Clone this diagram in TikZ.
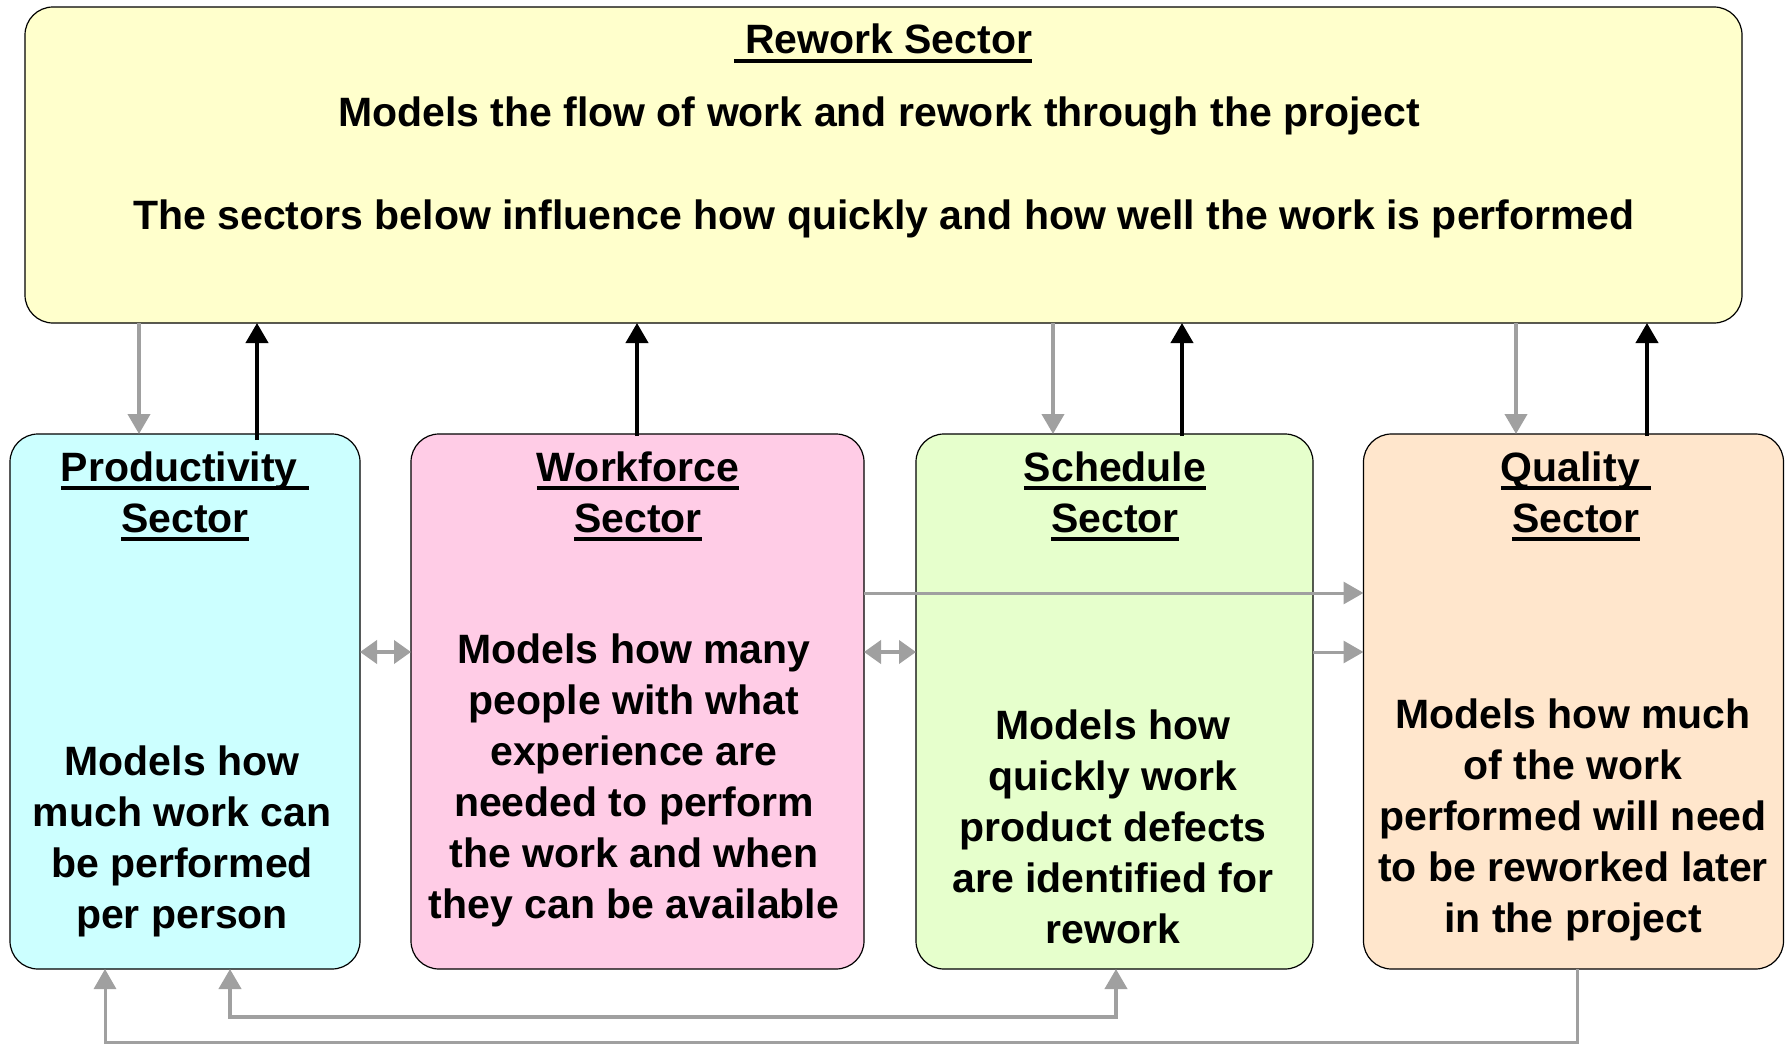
\documentclass[tikz,border=0pt]{standalone}
\usepackage{fontspec}
\setmainfont{Liberation Sans}
\usetikzlibrary{arrows.meta,calc}
\definecolor{cyel}{HTML}{FFFFCC}
\definecolor{ccyan}{HTML}{CCFFFF}
\definecolor{cpink}{HTML}{FFCCE6}
\definecolor{cgreen}{HTML}{E6FFCC}
\definecolor{corange}{HTML}{FFE6CC}
\definecolor{agray}{HTML}{A0A0A0}
\newcommand\myul[1]{\setbox0\hbox{#1}\leavevmode\rlap{\rule[-4.5pt]{\wd0}{2pt}}\box0}
\newcommand\fsz{\fontsize{20.5pt}{25.5pt}\selectfont}
\begin{document}
\begin{tikzpicture}[x=0.5pt,y=-0.5pt,
  box/.style={draw=black,line width=0.6pt,rounded corners=14pt,inner sep=0pt,outer sep=0pt},
  txt/.style={font=\fsz\bfseries,align=center,inner sep=0pt},
  tipA/.tip={Triangle[length=10pt,width=11pt]},
  tipB/.tip={Triangle[length=8.5pt,width=11.5pt]},
  grayarr/.style={draw=agray,line width=2pt,-tipA},
  blackarr/.style={draw=black,line width=2pt,-tipA},
  dblarr/.style={draw=agray,line width=2pt,tipB-tipB},
  bottomarr/.style={draw=agray,line width=1.5pt,-tipA},
  bottomdbl/.style={draw=agray,line width=2pt,tipA-tipA}]
\fill[white] (0,0) rectangle (1785,1044);
\useasboundingbox (0,0) rectangle (1785,1044);

% boxes
\node[box,fill=cyel,minimum width=858.5pt,minimum height=158pt] (rework) at (883.5,165) {};
\node[box,fill=ccyan,minimum width=175pt,minimum height=267.5pt] (prod) at (185,701.5) {};
\node[box,fill=cpink,minimum width=226.5pt,minimum height=267.5pt] (work) at (637.5,701.5) {};
\node[box,fill=cgreen,minimum width=198.5pt,minimum height=267.5pt] (sched) at (1114.5,701.5) {};
\node[box,fill=corange,minimum width=210pt,minimum height=267.5pt] (qual) at (1573.5,701.5) {};

% texts top box
\node[txt] (rtitle) at (883,43.5) {\myul{\ Rework Sector}};
\node[txt] (rline1) at (879,115.5) {Models the flow of work and rework through the project};
\node[txt] (rline2) at (884,218.5) {The sectors below influence how quickly and how well the work is performed};

% headings
\node[txt] (ph) at (185,496.5) {\myul{Productivity\ }\\\myul{Sector}};
\node[txt] (wh) at (638,496.5) {\myul{Workforce}\\\myul{Sector}};
\node[txt] (sh) at (1115,496.5) {\myul{Schedule}\\\myul{Sector}};
\node[txt] (qh) at (1576,496.5) {\myul{Quality\ }\\\myul{Sector}};

% bodies
\node[txt] (pb) at (182,841.5) {Models how\\much work can\\be performed\\per person};
\node[txt] (wb) at (634,780.5) {Models how many\\people with what\\experience are\\needed to perform\\the work and when\\they can be available};
\node[txt] (sb) at (1113,827) {Models how\\quickly work\\product defects\\are identified for\\rework};
\node[txt] (qb) at (1573,820) {Models how much\\of the work\\performed will need\\to be reworked later\\in the project};

% helper coordinates
\path (prod.north) ++(-46,0) coordinate (pg) ++(118,0) coordinate (pk);
\path (work.north) ++(-0.5,0) coordinate (wk);
\path (sched.north) ++(-61.5,0) coordinate (sg) ++(129,0) coordinate (sk);
\path (qual.north) ++(-57.5,0) coordinate (qg) ++(131,0) coordinate (qk);
\coordinate (hA) at (0,593);
\coordinate (hB) at (0,652);
\path (prod.south) ++(-80,0) coordinate (pbo) ++(125,0) coordinate (pbi);
\path (sched.south) ++(1.5,0) coordinate (sbi);
\path (qual.south) ++(3.5,0) coordinate (qbo);
\coordinate (lA) at (0,1017);
\coordinate (lB) at (0,1042);

% vertical arrows top
\draw[grayarr] (rework.south -| pg) -- (pg);
\draw[blackarr] ($(pk)+(0,6)$) -- (rework.south -| pk);
\draw[blackarr] ($(wk)+(0,2)$) -- (rework.south -| wk);
\draw[grayarr] (rework.south -| sg) -- (sg);
\draw[blackarr] ($(sk)+(0,2)$) -- (rework.south -| sk);
\draw[grayarr] (rework.south -| qg) -- (qg);
\draw[blackarr] ($(qk)+(0,2)$) -- (rework.south -| qk);

% horizontal arrows
\draw[dblarr] (prod.east |- hB) -- (work.west |- hB);
\draw[dblarr] (work.east |- hB) -- (sched.west |- hB);
\draw[grayarr,line width=1.5pt] (work.east |- hA) -- (qual.west |- hA);
\draw[grayarr,line width=1.5pt] (sched.east |- hB) -- (qual.west |- hB);

% bottom connectors
\draw[bottomdbl] (pbi) -- (pbi |- lA) -- (sbi |- lA) -- (sbi);
\draw[bottomarr] (qbo) -- (qbo |- lB) -- (pbo |- lB) -- (pbo);
\end{tikzpicture}
\end{document}
